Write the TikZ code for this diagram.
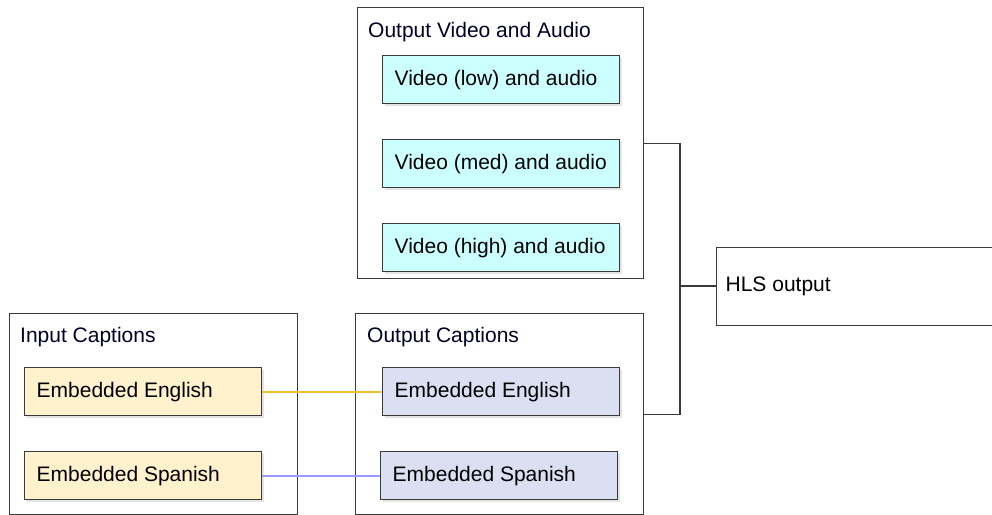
\documentclass[tikz,border=0pt]{standalone}
\usepackage{fontspec}
\setmainfont{Liberation Sans}
\definecolor{cyanbox}{HTML}{CCFFFF}
\definecolor{yelbox}{HTML}{FFF2CC}
\definecolor{lavbox}{HTML}{DAE0F2}
\definecolor{yelline}{RGB}{242,193,46}
\definecolor{lavline}{RGB}{153,153,255}
\definecolor{edgegray}{HTML}{3A3A3A}
\definecolor{shadowgray}{HTML}{E4E4E4}
\begin{document}
\begin{tikzpicture}[x=1pt,y=-1pt,
  font=\fontsize{21pt}{24pt}\selectfont,
  group/.style={draw=edgegray, line width=1.3pt, fill=white, anchor=north west, minimum width=286pt, inner sep=0pt},
  title/.style={anchor=base west, inner sep=0pt, text=black!85!blue},
  item/.style={draw=edgegray, line width=1.3pt, anchor=north west, minimum height=48pt, inner xsep=12pt, inner ysep=0pt},
  conn/.style={draw=edgegray, line width=1.3pt},
  yelconn/.style={color=yelline, line width=2pt},
  lavconn/.style={color=lavline, line width=2pt},
]
\useasboundingbox (0,0) rectangle (992,514);
% groups
\node[group, minimum height=271pt] (gva) at (357,7) {};
\node[title] (tva) at (368,37) {Output Video and Audio};
\node[group, minimum width=288pt, minimum height=201pt] (gic) at (9,313) {};
\node[title] (tic) at (20,342) {Input Captions};
\node[group, minimum width=288pt, minimum height=201pt] (goc) at (355,313) {};
\node[title] (toc) at (367,342) {Output Captions};
% shadows
\foreach \x/\y in {382/55,382/139,382/223,24/367,24/451,382/367,380/451}
  \fill[shadowgray] (\x+3,\y+3) rectangle (\x+240,\y+51);
% items
\node[item, fill=cyanbox] (vlow) at (382,55) {\makebox[213pt][l]{Video (low) and audio}};
\node[item, fill=cyanbox] (vmed) at (382,139) {\makebox[213pt][l]{Video (med) and audio}};
\node[item, fill=cyanbox] (vhigh) at (382,223) {\makebox[213pt][l]{Video (high) and audio}};
\node[item, fill=yelbox] (ien) at (24,367) {\makebox[213pt][l]{Embedded English}};
\node[item, fill=yelbox] (ies) at (24,451) {\makebox[213pt][l]{Embedded Spanish}};
\node[item, fill=lavbox] (oen) at (382,367) {\makebox[213pt][l]{Embedded English}};
\node[item, fill=lavbox] (oes) at (380,451) {\makebox[213pt][l]{Embedded Spanish}};
% HLS
\node[draw=edgegray, line width=1.3pt, anchor=north west, minimum height=78pt, inner xsep=9pt, inner ysep=0pt] (hls) at (716,247) {\makebox[282pt][l]{HLS output}};
% connectors
\coordinate (j) at (680,286);
\draw[conn] (gva.east) -| (j) |- (goc.east);
\draw[conn] (j) -- (j -| hls.west);
\draw[yelconn] (ien.east) -- (oen.west);
\draw[lavconn] (ies.east) -- (oes.west);
\end{tikzpicture}
\end{document}
